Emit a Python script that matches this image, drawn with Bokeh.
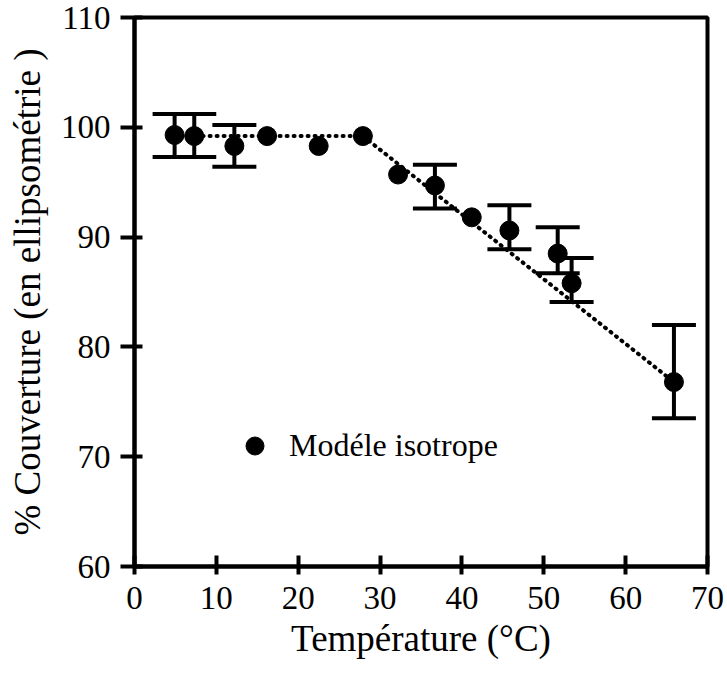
from bokeh.plotting import figure
from bokeh.models import (ColumnDataSource, Whisker, TeeHead, Legend, LegendItem,
                          Range1d)
from bokeh.embed import file_html
from bokeh.resources import INLINE

# Measured coverage versus temperature
temperature = [4.9, 7.3, 12.2, 16.2, 22.5, 27.9, 32.2, 36.7, 41.2, 45.8, 51.7, 53.4, 65.9]
couverture = [99.3, 99.2, 98.3, 99.2, 98.3, 99.2, 95.7, 94.7, 91.8, 90.6, 88.5, 85.8, 76.8]

# Error bars (only some of the measurements carry one)
err_temperature = [4.9, 7.3, 12.2, 36.7, 45.8, 51.7, 53.4, 65.9]
err_upper = [101.2, 101.2, 100.2, 96.6, 92.9, 90.9, 88.1, 82.0]
err_lower = [97.3, 97.3, 96.4, 92.6, 88.9, 86.7, 84.1, 73.5]

# Dotted guide: plateau then linear decrease
trend_temperature = [4.9, 27.9, 65.9]
trend_couverture = [99.2, 99.2, 76.8]

x_ticks = [0, 10, 20, 30, 40, 50, 60, 70]
y_ticks = [60, 70, 80, 90, 100, 110]

x_label = "Température (°C)"
y_label = "% Couverture (en ellipsométrie )"
legend_label = "Modéle isotrope"

FONT = "Liberation Serif"

p = figure(width=727, height=676, output_backend="svg", toolbar_location=None,
           x_range=Range1d(0, 70), y_range=Range1d(60, 110))
p.min_border_left = 134
p.min_border_right = 20
p.min_border_top = 17
p.min_border_bottom = 110
p.background_fill_color = "white"
p.border_fill_color = "white"
p.outline_line_color = "black"
p.outline_line_width = 4
p.xgrid.visible = False
p.ygrid.visible = False

for ax in (p.xaxis, p.yaxis):
    ax.axis_line_width = 4
    ax.axis_line_color = "black"
    ax.major_tick_line_width = 4
    ax.major_tick_line_color = "black"
    ax.minor_tick_line_color = None
    ax.major_label_text_font = FONT
    ax.major_label_text_font_size = "33px"
    ax.major_label_text_color = "black"
    ax.axis_label_text_font = FONT
    ax.axis_label_text_font_size = "37px"
    ax.axis_label_text_font_style = "normal"
    ax.axis_label_text_color = "black"

p.xaxis.ticker = x_ticks
p.yaxis.ticker = y_ticks
p.xaxis.major_tick_in = 11
p.xaxis.major_tick_out = 8
p.yaxis.major_tick_in = 8
p.yaxis.major_tick_out = 14
p.xaxis.major_label_standoff = 12
p.yaxis.major_label_standoff = 10
p.xaxis.axis_label = x_label
p.yaxis.axis_label = y_label
p.xaxis.axis_label_standoff = 6
p.yaxis.axis_label_standoff = 10

# dotted guide line
p.line(trend_temperature, trend_couverture, line_color="black", line_width=4,
       line_dash="1 6", line_cap="round")

# error bars
err_src = ColumnDataSource(dict(x=err_temperature, upper=err_upper, lower=err_lower))
whisk = Whisker(base="x", upper="upper", lower="lower", source=err_src,
                line_color="black", line_width=4,
                upper_head=TeeHead(size=44, line_width=4, line_color="black"),
                lower_head=TeeHead(size=44, line_width=4, line_color="black"))
p.add_layout(whisk)

pts = p.scatter(temperature, couverture, size=19, marker="circle",
                fill_color="black", line_color="black")

# legend glyph box sized so the sample marker matches the data markers
legend = Legend(items=[LegendItem(label=legend_label, renderers=[pts])],
                location=(98, 98), orientation="vertical",
                label_text_font=FONT, label_text_font_size="32px",
                label_text_color="black",
                glyph_width=45, glyph_height=45, label_standoff=12,
                padding=0, margin=0, spacing=0,
                border_line_color=None, background_fill_alpha=0)
p.add_layout(legend)

open("out.html", "w").write(file_html(p, INLINE))
